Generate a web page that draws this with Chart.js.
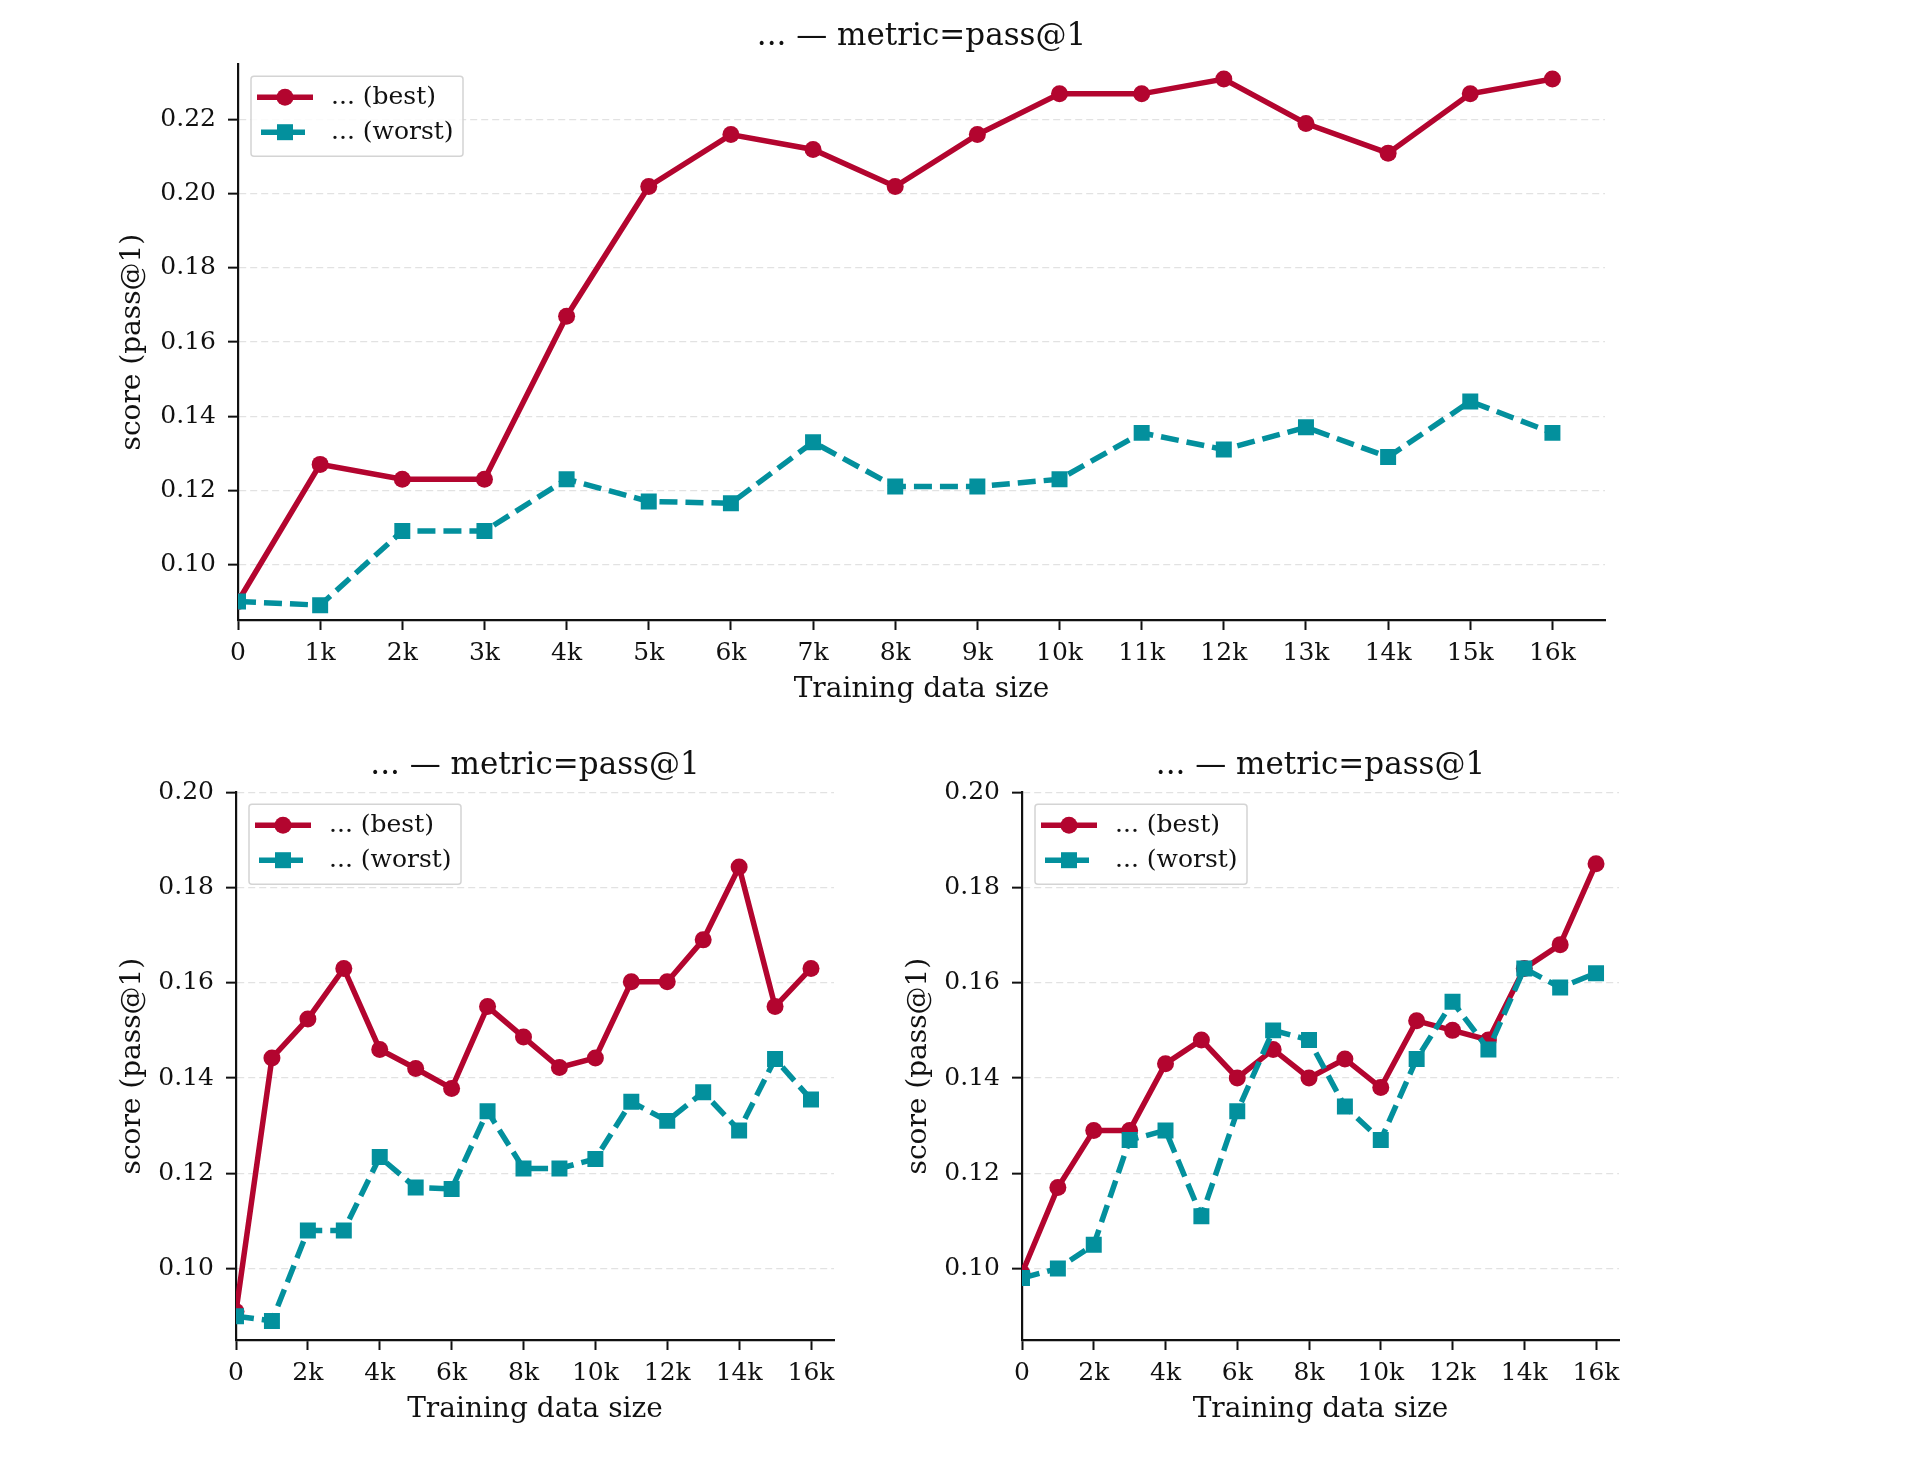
<!DOCTYPE html>
<html>
<head>
<meta charset="utf-8">
<script src="https://cdn.jsdelivr.net/npm/chart.js@4.4.1/dist/chart.umd.min.js"></script>
<style>
  html, body { margin: 0; padding: 0; background: #fff; }
  body { width: 1926px; height: 1466px; position: relative; overflow: hidden; }
  .box { position: absolute; }
</style>
</head>
<body>
<div class="box" style="left:100px; top:0px; width:1643px; height:720px;"><canvas id="chartTop"></canvas></div>
<div class="box" style="left:100px; top:720px; width:870px; height:720px;"><canvas id="chartLeft"></canvas></div>
<div class="box" style="left:880px; top:720px; width:881px; height:720px;"><canvas id="chartRight"></canvas></div>
<script>
// --- dados ---
const sizes = [0, 1000, 2000, 3000, 4000, 5000, 6000, 7000, 8000, 9000, 10000, 11000, 12000, 13000, 14000, 15000, 16000];

const topBest   = [0.090, 0.127, 0.123, 0.123, 0.167, 0.202, 0.216, 0.212, 0.202, 0.216, 0.227, 0.227, 0.231, 0.219, 0.211, 0.227, 0.231];
const topWorst  = [0.090, 0.089, 0.109, 0.109, 0.123, 0.117, 0.1165, 0.133, 0.121, 0.121, 0.123, 0.1355, 0.131, 0.137, 0.129, 0.144, 0.1355];

const leftBest  = [0.091, 0.1442, 0.1524, 0.163, 0.146, 0.142, 0.1378, 0.155, 0.1486, 0.1422, 0.1442, 0.1602, 0.1602, 0.169, 0.1843, 0.155, 0.163];
const leftWorst = [0.090, 0.089, 0.108, 0.108, 0.1234, 0.117, 0.1167, 0.133, 0.121, 0.121, 0.123, 0.135, 0.131, 0.137, 0.129, 0.144, 0.1355];

const rightBest  = [0.099, 0.117, 0.129, 0.129, 0.143, 0.148, 0.140, 0.146, 0.140, 0.144, 0.138, 0.152, 0.150, 0.148, 0.163, 0.168, 0.185];
const rightWorst = [0.098, 0.100, 0.105, 0.127, 0.129, 0.111, 0.133, 0.150, 0.148, 0.134, 0.127, 0.144, 0.156, 0.146, 0.163, 0.159, 0.162];

const seriesLabels = ['... (best)', '... (worst)'];
const chartTitle = '... \u2014 metric=pass@1';
const xTitle = 'Training data size';
const yTitle = 'score (pass@1)';

const xTicksTop = sizes;
const xTicksBottom = [0, 2000, 4000, 6000, 8000, 10000, 12000, 14000, 16000];
const yTicksTop = [0.10, 0.12, 0.14, 0.16, 0.18, 0.20, 0.22];
const yTicksBottom = [0.10, 0.12, 0.14, 0.16, 0.18, 0.20];

const RED = '#B3052F';
const TEAL = '#03909D';
const FONT = "'DejaVu Serif', 'Liberation Serif', serif";

Chart.defaults.font.family = FONT;
Chart.defaults.color = '#111';

const fmtK = v => v === 0 ? '0' : (v / 1000) + 'k';

// legenda dentro do gráfico, com caixa
const legendaBox = {
  id: 'legendaBox',
  afterDatasetsDraw(chart) {
    const ctx = chart.ctx;
    const a = chart.chartArea;
    const x0 = a.left + 13, y0 = a.top + 12;
    const w = 212, h = 80;
    ctx.save();
    ctx.fillStyle = 'rgba(255,255,255,0.85)';
    ctx.strokeStyle = '#d4d4d4';
    ctx.lineWidth = 1.5;
    ctx.beginPath();
    ctx.roundRect(x0, y0, w, h, 3);
    ctx.fill();
    ctx.stroke();
    chart.data.datasets.forEach((ds, i) => {
      const cy = y0 + 21 + i * 35;
      const dashed = ds.borderDash && ds.borderDash.length;
      ctx.strokeStyle = ds.borderColor;
      ctx.lineWidth = ds.borderWidth;
      ctx.setLineDash(ds.borderDash || []);
      ctx.beginPath();
      ctx.moveTo(x0 + (dashed ? 10 : 6), cy);
      ctx.lineTo(x0 + (dashed ? 60 : 62), cy);
      ctx.stroke();
      ctx.setLineDash([]);
      ctx.fillStyle = ds.backgroundColor;
      ctx.beginPath();
      if (ds.pointStyle === 'circle') {
        ctx.arc(x0 + 34, cy, ds.pointRadius, 0, Math.PI * 2);
      } else {
        const s = ds.pointRadius * Math.SQRT1_2;
        ctx.rect(x0 + 34 - s, cy - s, 2 * s, 2 * s);
      }
      ctx.fill();
      ctx.fillStyle = '#111';
      ctx.font = '25px ' + FONT;
      ctx.textBaseline = 'middle';
      ctx.fillText(seriesLabels[i], x0 + 80, cy);
    });
    ctx.restore();
  }
};

function montarGrafico(id, best, worst, opts) {
  const ctx = document.getElementById(id).getContext('2d');
  return new Chart(ctx, {
    type: 'line',
    data: {
      datasets: [
        {
          label: seriesLabels[0],
          data: sizes.map((s, i) => ({ x: s, y: best[i] })),
          borderColor: RED, backgroundColor: RED,
          borderWidth: 5.5, pointStyle: 'circle', pointRadius: 8.5,
          pointBorderWidth: 0, tension: 0, clip: 0, order: 1
        },
        {
          label: seriesLabels[1],
          data: sizes.map((s, i) => ({ x: s, y: worst[i] })),
          borderColor: TEAL, backgroundColor: TEAL,
          borderWidth: 5.5, borderDash: [18, 8], pointStyle: 'rect', pointRadius: 11.3,
          pointBorderWidth: 0, tension: 0, clip: 0, order: 0
        }
      ]
    },
    options: {
      responsive: true,
      maintainAspectRatio: false,
      animation: false,
      layout: { padding: 0 },
      plugins: {
        legend: { display: false },
        tooltip: { enabled: false },
        title: {
          display: true, text: chartTitle, color: '#111',
          font: { size: 31, weight: 'normal', family: FONT, lineHeight: 1.2 },
          padding: { top: opts.titleTop, bottom: opts.titleBottom }
        }
      },
      scales: {
        x: {
          type: 'linear', min: 0, max: 16640,
          afterBuildTicks: s => { s.ticks = opts.xTicks.map(v => ({ value: v })); },
          afterFit: s => { s.height = 100; },
          ticks: { callback: v => fmtK(v), font: { size: 25 }, color: '#111', padding: 8, maxRotation: 0, autoSkip: false },
          grid: { drawOnChartArea: false, drawTicks: true, tickLength: 10, tickColor: '#111', tickWidth: 2 },
          border: { display: true, color: '#111', width: 2.2 },
          title: { display: true, text: xTitle, font: { size: 28, family: FONT, lineHeight: 1.2 }, color: '#111', padding: { top: 0, bottom: 13 } }
        },
        y: {
          type: 'linear', min: opts.yMin, max: opts.yMax,
          afterBuildTicks: s => { s.ticks = opts.yTicks.map(v => ({ value: v })); },
          afterFit: s => { s.width = opts.yWidth; },
          ticks: { callback: v => v.toFixed(2), font: { size: 25 }, color: '#111', padding: 12 },
          grid: { color: '#e2e2e2', lineWidth: 1.3, drawTicks: true, tickLength: 10, tickColor: '#111', tickWidth: 2, tickBorderDash: [] },
          border: { display: true, color: '#111', width: 2.2, dash: [7, 4] },
          title: { display: true, text: yTitle, font: { size: 28, family: FONT, lineHeight: 1.2 }, color: '#111', padding: { top: opts.yTitlePad, bottom: 0 } }
        },
        // eixo vazio à direita só para centrar o título sobre a área do gráfico
        yEspaco: {
          type: 'linear', position: 'right', display: true,
          afterFit: s => { s.width = opts.yWidth; },
          ticks: { display: false },
          grid: { display: false, drawTicks: false },
          border: { display: false }
        }
      }
    },
    plugins: [legendaBox]
  });
}

montarGrafico('chartTop', topBest, topWorst, {
  titleTop: 18, titleBottom: 9,
  xTicks: xTicksTop, yTicks: yTicksTop, yMin: 0.085, yMax: 0.235,
  yWidth: 138, yTitlePad: 16
});
montarGrafico('chartLeft', leftBest, leftWorst, {
  titleTop: 27, titleBottom: 8,
  xTicks: xTicksBottom, yTicks: yTicksBottom, yMin: 0.085, yMax: 0.20,
  yWidth: 136, yTitlePad: 16
});
montarGrafico('chartRight', rightBest, rightWorst, {
  titleTop: 27, titleBottom: 8,
  xTicks: xTicksBottom, yTicks: yTicksBottom, yMin: 0.085, yMax: 0.20,
  yWidth: 142, yTitlePad: 22
});
</script>
</body>
</html>
